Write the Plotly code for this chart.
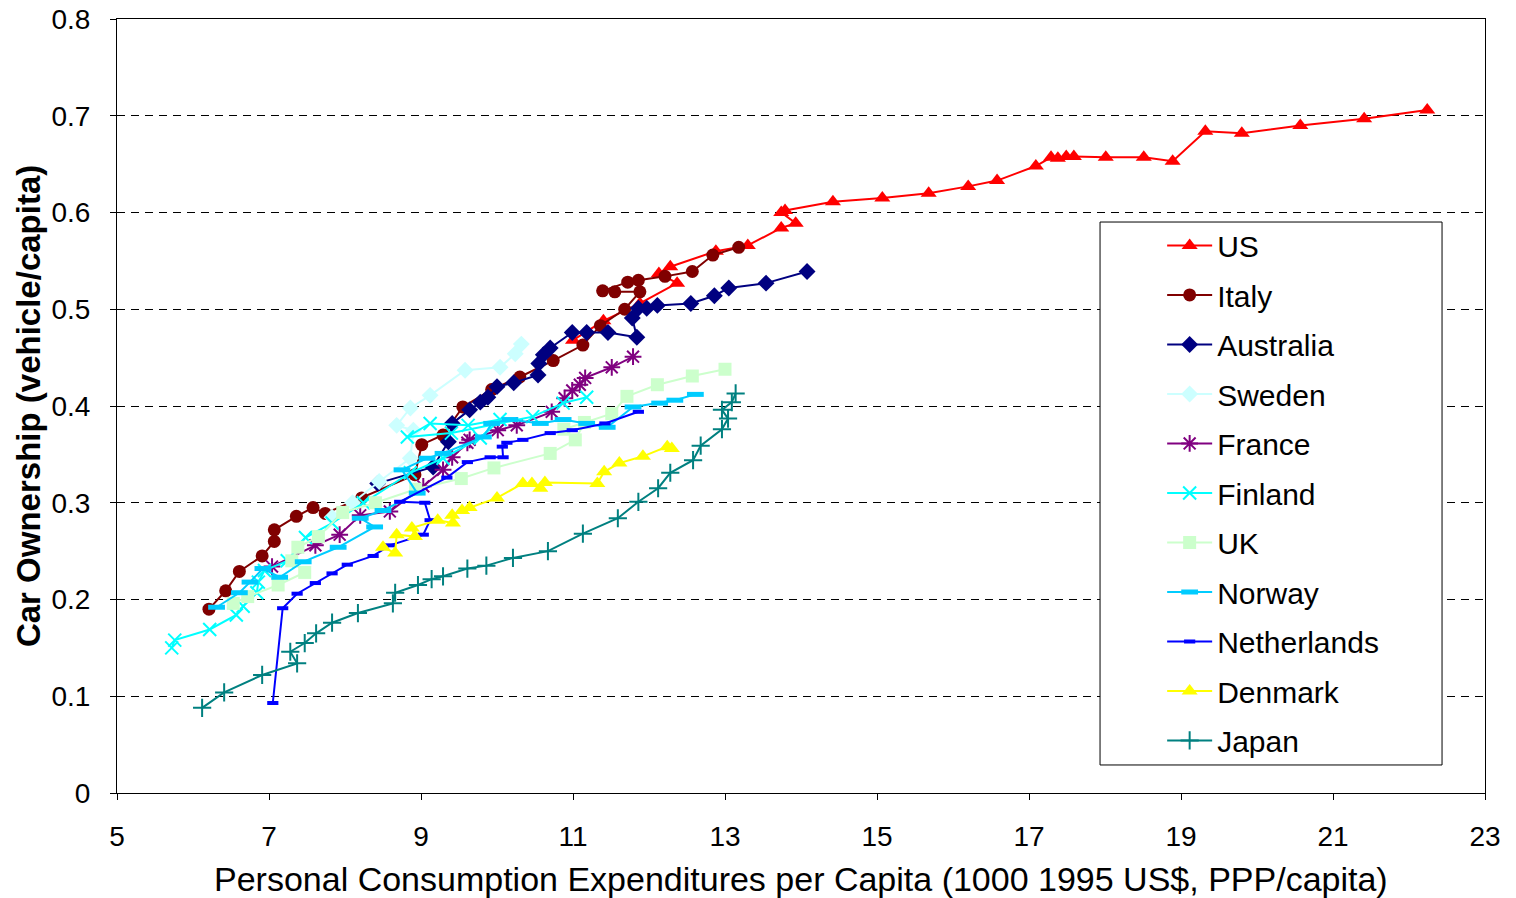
import plotly.graph_objects as go

# ---- data (x: 1000 1995 US$ PPP/capita, y: vehicle/capita) ----
us_x = [11.0, 11.4, 11.88, 12.37, 12.13, 12.28, 12.88, 13.30, 13.74, 13.93, 13.74, 13.79, 14.42, 15.07, 15.68,
        16.20, 16.58, 17.09, 17.29, 17.38, 17.49, 17.59, 18.01, 18.51, 18.89, 19.32, 19.80, 20.57, 21.41, 22.24]
us_y = [0.468, 0.488, 0.506, 0.527, 0.537, 0.544, 0.560, 0.566, 0.584, 0.589, 0.600, 0.602, 0.611, 0.615, 0.620,
        0.627, 0.633, 0.648, 0.657, 0.656, 0.658, 0.658, 0.657, 0.657, 0.653, 0.684, 0.682, 0.690, 0.697, 0.706]

italy_x = [6.21, 6.43, 6.61, 6.91, 7.07, 7.07, 7.36, 7.58, 7.74, 8.22, 8.92, 9.01, 9.29, 9.55, 9.93, 10.30,
           10.74, 11.13, 11.36, 11.68, 11.88, 11.55, 11.39, 11.72, 11.86, 12.21, 12.57, 12.84, 13.18]
italy_y = [0.190, 0.209, 0.229, 0.245, 0.260, 0.272, 0.286, 0.295, 0.289, 0.305, 0.329, 0.360, 0.370, 0.399,
           0.417, 0.430, 0.447, 0.463, 0.483, 0.500, 0.518, 0.518, 0.519, 0.528, 0.530, 0.534, 0.539, 0.556, 0.564]

australia_x = [8.43, 9.16, 9.36, 9.41, 9.64, 9.78, 9.88, 10.00, 10.22, 10.54, 10.55, 10.61, 10.70, 10.99, 11.18,
               11.46, 11.84, 11.78, 11.86, 11.97, 12.11, 12.55, 12.86, 13.05, 13.54, 14.08]
australia_y = [0.320, 0.337, 0.363, 0.382, 0.396, 0.404, 0.409, 0.420, 0.424, 0.432, 0.444, 0.453, 0.460, 0.476,
               0.476, 0.476, 0.471, 0.491, 0.501, 0.501, 0.504, 0.506, 0.514, 0.522, 0.527, 0.539]

sweden_x = [7.83, 8.10, 8.45, 8.86, 8.90, 8.68, 8.86, 9.12, 9.58, 10.04, 10.24, 10.32]
sweden_y = [0.285, 0.300, 0.322, 0.346, 0.375, 0.380, 0.398, 0.411, 0.437, 0.440, 0.454, 0.464]

france_x = [7.04, 7.61, 7.93, 8.20, 8.59, 9.03, 9.29, 9.41, 9.61, 9.64, 10.01, 10.26, 10.72, 10.89, 10.99,
            11.09, 11.16, 11.51, 11.79]
france_y = [0.234, 0.256, 0.267, 0.287, 0.291, 0.317, 0.334, 0.347, 0.362, 0.365, 0.375, 0.380, 0.394, 0.408,
            0.416, 0.422, 0.429, 0.440, 0.451]

finland_x = [5.72, 5.76, 6.22, 6.57, 6.66, 6.84, 6.86, 6.94, 7.24, 7.48, 7.83, 8.24, 8.86, 9.29, 9.78, 10.04,
             9.62, 9.12, 8.82, 9.40, 10.47, 10.87, 11.18]
finland_y = [0.150, 0.158, 0.169, 0.184, 0.193, 0.207, 0.218, 0.230, 0.240, 0.264, 0.279, 0.300, 0.331, 0.346,
             0.367, 0.386, 0.380, 0.382, 0.368, 0.372, 0.389, 0.403, 0.409]

uk_x = [6.53, 6.72, 7.12, 7.47, 7.30, 7.38, 7.65, 7.97, 8.40, 8.93, 9.53, 9.96, 10.70, 11.03, 11.15, 10.88,
        11.51, 11.71, 12.11, 12.57, 13.00]
uk_y = [0.196, 0.203, 0.215, 0.228, 0.240, 0.254, 0.265, 0.290, 0.300, 0.314, 0.325, 0.336, 0.351, 0.365,
        0.383, 0.376, 0.392, 0.410, 0.422, 0.431, 0.438]

norway_x = [6.31, 6.61, 6.75, 6.92, 7.14, 7.45, 7.91, 8.39, 8.20, 8.50, 8.95, 8.75, 9.08, 9.29, 9.82, 9.93,
            10.17, 10.57, 10.87, 11.18, 11.45, 11.79, 12.14, 12.34, 12.61]
norway_y = [0.192, 0.207, 0.218, 0.232, 0.223, 0.239, 0.254, 0.275, 0.284, 0.292, 0.310, 0.334, 0.346, 0.351,
            0.368, 0.382, 0.386, 0.382, 0.386, 0.382, 0.378, 0.399, 0.403, 0.406, 0.412]

netherlands_x = [7.05, 7.18, 7.37, 7.61, 7.83, 8.03, 8.37, 8.59, 9.03, 9.12, 9.05, 8.72, 9.34, 9.61, 9.91,
                 10.08, 10.07, 10.13, 10.34, 10.70, 10.99, 11.42, 11.86]
netherlands_y = [0.093, 0.191, 0.206, 0.217, 0.227, 0.236, 0.245, 0.256, 0.267, 0.282, 0.300, 0.301, 0.326,
                 0.342, 0.347, 0.347, 0.358, 0.362, 0.365, 0.372, 0.375, 0.382, 0.394]

denmark_x = [8.50, 8.66, 8.68, 8.92, 8.88, 9.22, 9.42, 9.41, 9.54, 9.64, 10.00, 10.34, 10.46, 10.57, 10.63,
             11.32, 11.41, 11.61, 11.92, 12.24, 12.30]
denmark_y = [0.254, 0.248, 0.267, 0.265, 0.274, 0.282, 0.279, 0.287, 0.292, 0.295, 0.305, 0.320, 0.320, 0.315,
             0.321, 0.320, 0.332, 0.341, 0.348, 0.358, 0.356]

japan_x = [6.12, 6.41, 6.91, 7.37, 7.28, 7.47, 7.62, 7.83, 8.17, 8.63, 8.66, 8.96, 9.14, 9.29, 9.61, 9.86,
           10.21, 10.67, 11.13, 11.59, 11.86, 12.12, 12.28, 12.58, 12.68, 12.96, 13.04, 12.96, 13.09, 13.14]
japan_y = [0.088, 0.104, 0.122, 0.134, 0.146, 0.155, 0.165, 0.176, 0.186, 0.196, 0.207, 0.215, 0.221, 0.224,
           0.232, 0.235, 0.243, 0.250, 0.268, 0.284, 0.301, 0.315, 0.331, 0.344, 0.359, 0.376, 0.387, 0.396,
           0.404, 0.413]

x_ticks = [5, 7, 9, 11, 13, 15, 17, 19, 21, 23]
y_ticks = [0, 0.1, 0.2, 0.3, 0.4, 0.5, 0.6, 0.7, 0.8]
y_tick_text = ["0", "0.1", "0.2", "0.3", "0.4", "0.5", "0.6", "0.7", "0.8"]

series = [
    ("US", us_x, us_y, "#FF0000", dict(symbol="triangle-up", size=14)),
    ("Italy", italy_x, italy_y, "#800000", dict(symbol="circle", size=13)),
    ("Australia", australia_x, australia_y, "#000080", dict(symbol="diamond", size=13)),
    ("Sweden", sweden_x, sweden_y, "#CCFFFF", dict(symbol="diamond", size=13)),
    ("France", france_x, france_y, "#800080", dict(symbol="asterisk", size=14, line=dict(width=2, color="#800080"))),
    ("Finland", finland_x, finland_y, "#00FFFF", dict(symbol="x-thin", size=13, line=dict(width=2, color="#00FFFF"))),
    ("UK", uk_x, uk_y, "#CCFFCC", dict(symbol="square", size=13)),
    ("Norway", norway_x, norway_y, "#00CCFF", dict(symbol="line-ew", size=12, line=dict(width=5, color="#00CCFF"))),
    ("Netherlands", netherlands_x, netherlands_y, "#0000FF", dict(symbol="line-ew", size=8, line=dict(width=4, color="#0000FF"))),
    ("Denmark", denmark_x, denmark_y, "#FFFF00", dict(symbol="triangle-up", size=14)),
    ("Japan", japan_x, japan_y, "#008080", dict(symbol="cross-thin", size=13, line=dict(width=2, color="#008080"))),
]

fig = go.Figure()
for name, xs, ys, col, mk in series:
    m = dict(color=col)
    m.update(mk)
    fig.add_trace(go.Scatter(x=xs, y=ys, mode="lines+markers", name=name, legendgroup=name,
                             line=dict(color=col, width=2), marker=m))

font = "Liberation Sans, Arial, sans-serif"
fig.update_layout(
    width=1516, height=898,
    margin=dict(l=117, r=31, t=19, b=105, autoexpand=False),
    paper_bgcolor="white", plot_bgcolor="white",
    font=dict(family=font, size=28, color="black"),
    showlegend=True,
    legend=dict(x=0.764, y=0.741, xanchor="left", yanchor="top", bgcolor="rgba(0,0,0,0)",
                borderwidth=0, font=dict(size=30, family=font), tracegroupgap=7.5, traceorder="grouped",
                itemwidth=45),
    xaxis=dict(range=[5, 23], tickvals=x_ticks, showgrid=False, zeroline=False, automargin=False,
               showline=True, linecolor="black", linewidth=1, mirror=True,
               ticks="outside", ticklen=6, tickcolor="black", tickfont=dict(size=28),
               ticklabelstandoff=12),
    yaxis=dict(range=[0, 0.8], tickvals=y_ticks, ticktext=y_tick_text, showgrid=True, automargin=False,
               gridcolor="black", gridwidth=1, griddash="8px,6px", zeroline=False,
               showline=True, linecolor="black", linewidth=1, mirror=True,
               ticks="outside", ticklen=6, tickcolor="black", tickfont=dict(size=28),
               ticklabelstandoff=14),
    shapes=[dict(type="rect", xref="paper", yref="paper", x0=0.7186, x1=0.9686, y0=0.0362, y1=0.7377,
                 fillcolor="white", line=dict(color="black", width=1), layer="above")],
    annotations=[
        dict(text="Personal Consumption Expenditures per Capita (1000 1995 US$, PPP/capita)",
             xref="paper", yref="paper", x=0.5, y=-0.111, xanchor="center", yanchor="middle",
             showarrow=False, font=dict(size=34, family=font)),
        dict(text="<b>Car Ownership (vehicle/capita)</b>", xref="paper", yref="paper",
             x=-0.065, y=0.5, xanchor="center", yanchor="middle", textangle=-90,
             showarrow=False, font=dict(size=33, family=font)),
    ],
)

fig.write_html("out.html", config={"displayModeBar": False},
               post_script="document.body.style.margin='0px';")
